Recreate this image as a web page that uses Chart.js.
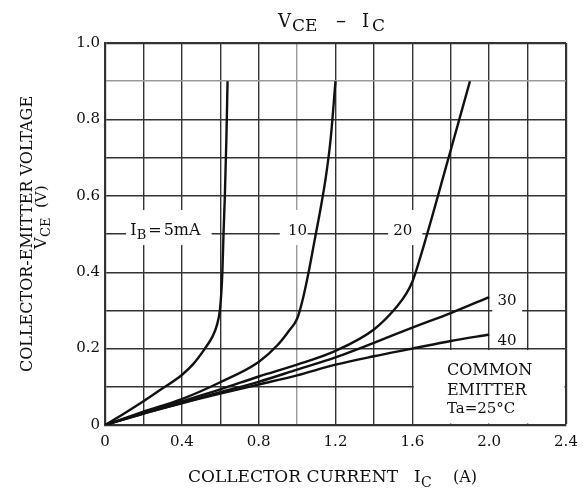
<!DOCTYPE html>
<html>
<head>
<meta charset="utf-8">
<script src="https://cdn.jsdelivr.net/npm/chart.js@4"></script>
<style>
  body { margin: 0; background: #fff; }
  canvas { display: block; }
</style>
</head>
<body>
<canvas id="chart" width="587" height="491"></canvas>
<script>
// tick labels
const xTickLabels = ['0', '0.4', '0.8', '1.2', '1.6', '2.0', '2.4'];
const yTickLabels = ['0', '0.2', '0.4', '0.6', '0.8', '1.0'];

// IB = 5 mA
const ib5X = [0, 0.1, 0.2, 0.3, 0.4, 0.46, 0.52, 0.56, 0.583, 0.598, 0.606, 0.611, 0.617, 0.624, 0.632, 0.638];
const ib5Y = [0, 0.03, 0.062, 0.096, 0.131, 0.16, 0.2, 0.232, 0.262, 0.3, 0.35, 0.4, 0.5, 0.6, 0.75, 0.9];
// IB = 10 mA
const ib10X = [0, 0.2, 0.4, 0.6, 0.8, 0.9, 0.96, 1.0, 1.03, 1.06, 1.09, 1.12, 1.15, 1.175, 1.2];
const ib10Y = [0, 0.035, 0.068, 0.112, 0.165, 0.21, 0.248, 0.278, 0.33, 0.4, 0.48, 0.56, 0.65, 0.75, 0.9];
// IB = 20 mA
const ib20X = [0, 0.2, 0.4, 0.6, 0.8, 1.0, 1.2, 1.4, 1.52, 1.57, 1.6, 1.63, 1.66, 1.7, 1.75, 1.8, 1.85, 1.9];
const ib20Y = [0, 0.032, 0.062, 0.093, 0.127, 0.158, 0.194, 0.25, 0.31, 0.345, 0.375, 0.42, 0.47, 0.54, 0.63, 0.72, 0.81, 0.9];
// IB = 30 mA
const ib30X = [0, 0.2, 0.4, 0.6, 0.8, 1.0, 1.2, 1.4, 1.6, 1.8, 2.0];
const ib30Y = [0, 0.03, 0.058, 0.086, 0.113, 0.145, 0.177, 0.215, 0.255, 0.293, 0.335];
// IB = 40 mA
const ib40X = [0, 0.2, 0.4, 0.6, 0.8, 1.0, 1.2, 1.4, 1.6, 1.8, 2.0];
const ib40Y = [0, 0.03, 0.057, 0.082, 0.106, 0.13, 0.158, 0.18, 0.2, 0.22, 0.237];

const FONT = 'DejaVu Serif';
const INK = '#111';

const toPoints = (xs, ys) => xs.map((x, i) => ({ x: x, y: ys[i] }));

const curve = (xs, ys) => ({
  data: toPoints(xs, ys),
  borderColor: INK,
  borderWidth: 2.4,
  pointRadius: 0,
  cubicInterpolationMode: 'monotone',
  fill: false,
});

// draw a run of text pieces left to right, pieces may be subscripts
function drawRun(ctx, x, y, parts) {
  let cx = x;
  parts.forEach(p => {
    ctx.font = p.size + 'px "' + FONT + '"';
    ctx.fillText(p.t, cx, y + (p.dy || 0));
    cx += ctx.measureText(p.t).width + (p.gap || 0);
  });
}

const near = (a, b) => Math.abs(a - b) < 1e-6;

const annotations = {
  id: 'annotations',
  beforeDatasetsDraw(chart) {
    const { ctx, scales: { x, y } } = chart;
    const px = v => x.getPixelForValue(v);
    const py = v => y.getPixelForValue(v);

    ctx.save();
    // white patches that break the grid behind the labels
    ctx.fillStyle = '#fff';
    const patches = [
      [0.11, 0.555, 0.471, 0.563],
      [0.91, 1.055, 0.471, 0.563],
      [1.474, 1.652, 0.471, 0.563],
      [2.016, 2.172, 0.29, 0.355],
    ];
    patches.forEach(p => {
      ctx.fillRect(px(p[0]), py(p[3]), px(p[1]) - px(p[0]), py(p[2]) - py(p[3]));
    });
    // the COMMON EMITTER box has no grid
    ctx.fillRect(px(1.6) + 1.5, py(0.2) + 1.5, px(2.4) - px(1.6) - 3, py(0) - py(0.2) - 3);

    ctx.fillStyle = INK;
    ctx.textBaseline = 'alphabetic';
    ctx.textAlign = 'left';
    drawRun(ctx, px(0.132), py(0.497), [
      { t: 'I', size: 16 }, { t: 'B', size: 13, dy: 4, gap: 2 }, { t: '=', size: 16, gap: 2 }, { t: '5mA', size: 16 }
    ]);
    drawRun(ctx, px(0.953), py(0.497), [{ t: '10', size: 15 }]);
    drawRun(ctx, px(1.5), py(0.497), [{ t: '20', size: 15 }]);
    drawRun(ctx, px(2.043), py(0.314), [{ t: '30', size: 15 }]);
    drawRun(ctx, px(2.043), py(0.209), [{ t: '40', size: 15 }]);
    drawRun(ctx, px(1.78), py(0.131), [{ t: 'COMMON', size: 16 }]);
    drawRun(ctx, px(1.78), py(0.0785), [{ t: 'EMITTER', size: 16 }]);
    drawRun(ctx, px(1.78), py(0.031), [{ t: 'Ta', size: 15 }, { t: '=', size: 15 }, { t: '25°C', size: 15 }]);
    ctx.restore();
  },
  afterDraw(chart) {
    const { ctx } = chart;
    ctx.save();
    ctx.fillStyle = INK;
    ctx.textBaseline = 'alphabetic';
    ctx.textAlign = 'left';

    // chart title  VCE - IC
    drawRun(ctx, 278, 26.5, [{ t: 'V', size: 18 }]);
    drawRun(ctx, 292, 31, [{ t: 'CE', size: 17 }]);
    drawRun(ctx, 336, 26.5, [{ t: '\u2013', size: 20 }]);
    drawRun(ctx, 362, 26.5, [{ t: 'I', size: 18 }]);
    drawRun(ctx, 372, 31, [{ t: 'C', size: 17 }]);

    // x axis title
    drawRun(ctx, 188, 482, [{ t: 'COLLECTOR CURRENT', size: 17 }]);
    drawRun(ctx, 414, 482, [{ t: 'I', size: 17 }]);
    drawRun(ctx, 421, 487, [{ t: 'C', size: 14 }]);
    drawRun(ctx, 453, 482, [{ t: '(A)', size: 16 }]);

    // y axis title, rotated
    ctx.rotate(-Math.PI / 2);
    ctx.textAlign = 'center';
    ctx.font = '16px "' + FONT + '"';
    ctx.fillText('COLLECTOR-EMITTER VOLTAGE', -234, 32);
    ctx.textAlign = 'left';
    drawRun(ctx, -249, 46, [{ t: 'V', size: 16 }]);
    drawRun(ctx, -237, 50, [{ t: 'CE', size: 13 }]);
    drawRun(ctx, -208, 46, [{ t: '(V)', size: 15 }]);
    ctx.restore();
  }
};

new Chart(document.getElementById('chart'), {
  type: 'line',
  data: {
    datasets: [
      curve(ib5X, ib5Y),
      curve(ib10X, ib10Y),
      curve(ib20X, ib20Y),
      curve(ib30X, ib30Y),
      curve(ib40X, ib40Y),
    ]
  },
  options: {
    responsive: false,
    animation: false,
    layout: { padding: { left: 0, top: 43, right: 21, bottom: 0 } },
    plugins: {
      legend: { display: false },
      tooltip: { enabled: false },
    },
    scales: {
      x: {
        type: 'linear',
        min: 0,
        max: 2.4,
        afterFit(scale) { scale.height = 66; },
        ticks: {
          stepSize: 0.2,
          autoSkip: false,
          maxRotation: 0,
          padding: 8,
          color: INK,
          font: { family: FONT, size: 15 },
          callback: (v, i) => (i % 2 === 0 ? xTickLabels[i / 2] : ''),
        },
        grid: {
          drawTicks: false,
          color: c => (near(c.tick.value, 1.0) ? '#9a9a9a' : '#333'),
          lineWidth: c => (near(c.tick.value, 2.4) ? 2.2 : 1.4),
        },
        border: { color: '#333', width: 2.2 },
      },
      y: {
        min: 0,
        max: 1.0,
        afterFit(scale) { scale.width = 105; },
        ticks: {
          stepSize: 0.1,
          autoSkip: false,
          padding: 5,
          color: INK,
          font: { family: FONT, size: 15 },
          callback: (v, i) => (i % 2 === 0 ? yTickLabels[i / 2] : ''),
        },
        grid: {
          drawTicks: false,
          color: c => (near(c.tick.value, 0.9) ? '#9a9a9a' : '#333'),
          lineWidth: c => (near(c.tick.value, 1.0) ? 2.2 : 1.4),
        },
        border: { color: '#333', width: 2.2 },
      },
    },
  },
  plugins: [annotations],
});
</script>
</body>
</html>
